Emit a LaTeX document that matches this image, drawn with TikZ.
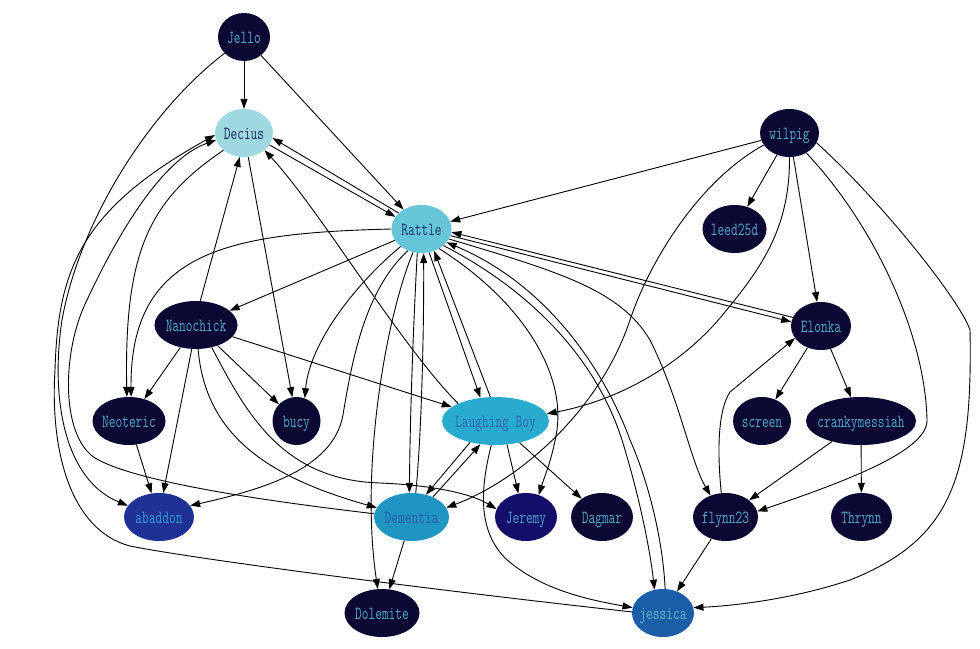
\documentclass[tikz,border=0pt]{standalone}
\usepackage{fontspec}
\usepackage{graphicx}
\usetikzlibrary{shapes.geometric,arrows.meta}
\definecolor{cdark}{HTML}{0C0834}
\definecolor{cdarkt}{HTML}{52A8C8}
\definecolor{cdec}{HTML}{A0D8E2}
\definecolor{cdect}{HTML}{1A2B5E}
\definecolor{crat}{HTML}{66C5D9}
\definecolor{cratt}{HTML}{1B3566}
\definecolor{clb}{HTML}{28ABCF}
\definecolor{clbt}{HTML}{2F63AE}
\definecolor{cdem}{HTML}{1F95C3}
\definecolor{cdemt}{HTML}{2C5AA8}
\definecolor{caba}{HTML}{1E3194}
\definecolor{cabat}{HTML}{2E9FD3}
\definecolor{cjer}{HTML}{150D6A}
\definecolor{cjert}{HTML}{48A4CB}
\definecolor{cjes}{HTML}{1C5DA8}
\definecolor{cjest}{HTML}{63B6C6}
\newcommand\gvnode[6]{%
  \node[nd,fill=#5,minimum width=#4pt] (#1) at (#2) {};
  \node[lab,text=#6] (#1-t) at (#1.center) {\scalebox{0.705}[1]{#3}};}
\begin{document}
\begin{tikzpicture}[x=1pt,y=-1pt,
  nd/.style={ellipse,minimum height=48pt,inner sep=0pt,draw=none},
  lab/.style={font=\ttfamily\fontsize{18.5}{20}\selectfont,inner sep=0pt,anchor=base,yshift=-6.8pt},
  ed/.style={draw=black,line width=0.9pt,-{Triangle[length=10pt,width=7pt]}}]
\fill[white] (0,0) rectangle (980,648);
\useasboundingbox (0,0) rectangle (980,648);
% nodes
\gvnode{Jello}{244,37}{Jello}{52}{cdark}{cdarkt}
\gvnode{Decius}{244,133}{Decius}{58}{cdec}{cdect}
\gvnode{Rattle}{421.5,229}{Rattle}{60}{crat}{cratt}
\gvnode{wilpig}{789.5,133}{wilpig}{59}{cdark}{cdarkt}
\gvnode{leed25d}{734.5,229}{leed25d}{64}{cdark}{cdarkt}
\gvnode{Nanochick}{196,325}{Nanochick}{83}{cdark}{cdarkt}
\gvnode{Elonka}{821,326}{Elonka}{60}{cdark}{cdarkt}
\gvnode{Neoteric}{129,421}{Neoteric}{73}{cdark}{cdarkt}
\gvnode{bucy}{296.5,421}{bucy}{48}{cdark}{cdarkt}
\gvnode{LB}{495.5,421}{Laughing Boy}{107}{clb}{clbt}
\gvnode{screen}{762,421}{screen}{58}{cdark}{cdarkt}
\gvnode{cranky}{861,421}{crankymessiah}{110}{cdark}{cdarkt}
\gvnode{abaddon}{159,517}{abaddon}{70}{caba}{cabat}
\gvnode{Dementia}{411.5,517}{Dementia}{75}{cdem}{cdemt}
\gvnode{Jeremy}{526,517}{Jeremy}{62}{cjer}{cjert}
\gvnode{Dagmar}{602,517}{Dagmar}{62}{cdark}{cdarkt}
\gvnode{flynn23}{725.5,517}{flynn23}{65}{cdark}{cdarkt}
\gvnode{Thrynn}{861.5,517}{Thrynn}{61}{cdark}{cdarkt}
\gvnode{Dolemite}{382,613}{Dolemite}{75}{cdark}{cdarkt}
\gvnode{jessica}{663,613}{jessica}{62}{cjes}{cjest}
% edges
\draw[ed] (Jello) -- (Decius);
\draw[ed] (Jello) -- (Rattle);
\draw[ed] (Jello.-140) .. controls (150,110) and (80,220) .. (62,320) .. controls (50,400) and (65,480) .. (abaddon.160);
\draw[ed] (Decius.-25) -- (Rattle.155);
\draw[ed] (Rattle.145) -- (Decius.-10);
\draw[ed] (Decius.-80) -- (bucy.100);
\draw[ed] (Decius.-140) .. controls (150,200) and (124,250) .. (Neoteric.95);
\draw[ed] (Rattle.west) .. controls (230,233) and (130,250) .. (Neoteric.85);
\draw[ed] (Rattle) -- (Nanochick);
\draw[ed] (Rattle.-140) .. controls (360,280) and (310,340) .. (bucy.70);
\draw[ed] (Rattle.-122) .. controls (365,290) and (352,360) .. (343,415) .. controls (333,470) and (260,490) .. (abaddon.20);
\draw[ed] (Rattle.-110) .. controls (385,320) and (360,470) .. (Dolemite.100);
\draw[ed] (Rattle.-100) .. controls (413,330) and (410,420) .. (Dementia.95);
\draw[ed] (Dementia.80) .. controls (422,430) and (424,320) .. (Rattle.-85);
\draw[ed] (Rattle.-72) -- (LB.123);
\draw[ed] (LB.102) -- (Rattle.-60);
\draw[ed] (Rattle.-48) .. controls (520,300) and (565,370) .. (557,430) .. controls (552,460) and (545,475) .. (Jeremy.60);
\draw[ed] (Rattle.-37) .. controls (530,290) and (600,360) .. (625,450) .. controls (640,500) and (650,550) .. (jessica.110);
\draw[ed] (jessica.85) .. controls (663,540) and (648,480) .. (630,440) .. controls (612,390) and (560,290) .. (Rattle.-28);
\draw[ed] (Rattle.-20) .. controls (560,272) and (620,290) .. (650,340) .. controls (680,400) and (690,460) .. (flynn23.125);
\draw[ed] (Rattle.-13) -- (Elonka.172);
\draw[ed] (Elonka.163) -- (Rattle.-6);
\draw[ed] (wilpig) -- (Rattle);
\draw[ed] (wilpig) -- (leed25d);
\draw[ed] (wilpig) -- (Elonka);
\draw[ed] (wilpig.-90) .. controls (790,230) and (760,270) .. (720,318) .. controls (680,365) and (620,400) .. (LB.8);
\draw[ed] (wilpig.-155) .. controls (700,180) and (650,260) .. (630,320) .. controls (600,410) and (520,480) .. (Dementia.15);
\draw[ed] (wilpig.-50) .. controls (870,220) and (925,330) .. (927,420) .. controls (928,450) and (850,480) .. (flynn23.10);
\draw[ed] (wilpig.-20) .. controls (880,200) and (960,300) .. (970,330) .. controls (973,480) and (950,540) .. (850,580) .. controls (790,600) and (730,606) .. (jessica.10);
\draw[ed] (Elonka) -- (screen);
\draw[ed] (Elonka) -- (cranky);
\draw[ed] (flynn23.100) .. controls (717,450) and (718,410) .. (730,392) -- (Elonka.-155);
\draw[ed] (cranky) -- (flynn23);
\draw[ed] (cranky) -- (Thrynn);
\draw[ed] (flynn23) -- (jessica);
\draw[ed] (Nanochick.80) -- (Decius.-100);
\draw[ed] (Nanochick) -- (Neoteric);
\draw[ed] (Nanochick.-100) -- (abaddon.80);
\draw[ed] (Nanochick) -- (bucy);
\draw[ed] (Nanochick) -- (LB);
\draw[ed] (Nanochick.-85) .. controls (205,430) and (260,475) .. (Dementia.165);
\draw[ed] (Nanochick.-55) .. controls (245,410) and (280,480) .. (380,483) .. controls (430,485) and (470,493) .. (Jeremy.165);
\draw[ed] (Neoteric) -- (abaddon);
\draw[ed] (LB.155) .. controls (400,345) and (320,210) .. (Decius.-40);
\draw[ed] (LB.-140) -- (Dementia.57);
\draw[ed] (Dementia.43) -- (LB.-123);
\draw[ed] (LB.-64) -- (Jeremy.108);
\draw[ed] (LB) -- (Dagmar);
\draw[ed] (LB.-100) .. controls (480,490) and (478,530) .. (505,558) .. controls (540,590) and (590,600) .. (jessica.170);
\draw[ed] (Dementia) -- (Dolemite);
\draw[ed] (Dementia.175) .. controls (300,505) and (140,485) .. (95,458) .. controls (60,435) and (62,350) .. (87,300) .. controls (115,240) and (160,160) .. (Decius.-166);
\draw[ed] (jessica.178) .. controls (450,592) and (200,560) .. (130,546) .. controls (70,530) and (50,450) .. (55,370) .. controls (58,270) and (80,210) .. (Decius.-176);
\end{tikzpicture}
\end{document}
